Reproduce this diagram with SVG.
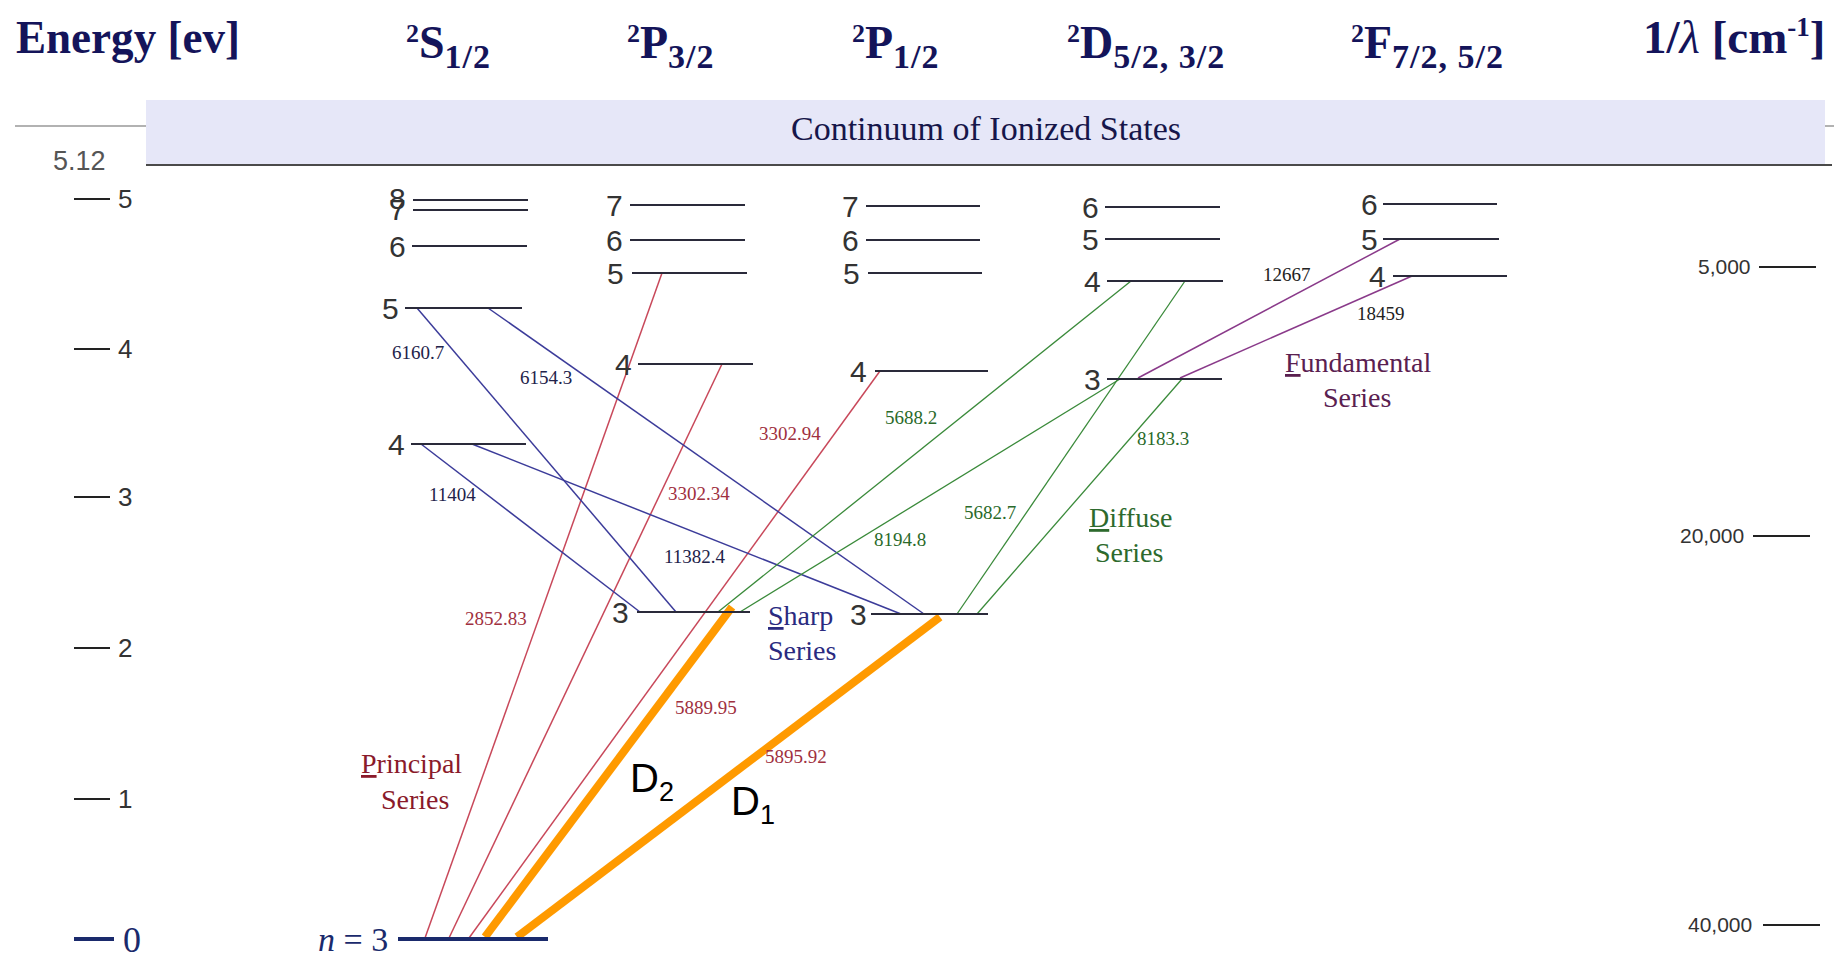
<svg xmlns="http://www.w3.org/2000/svg" width="1834" height="957" viewBox="0 0 1834 957">
<style>
.hdr{font-family:"Liberation Serif","Times New Roman",serif;font-weight:bold;fill:#14145a}
.sub{font-size:34px;letter-spacing:1px}
.lvl{stroke:#2a2a3a;stroke-width:2.2}
.num{font-family:"Liberation Sans",Arial,sans-serif;font-size:30px;fill:#333}
.ax{font-family:"Liberation Sans",Arial,sans-serif;font-size:26px;fill:#333}
.rax{font-family:"Liberation Sans",Arial,sans-serif;font-size:21px;fill:#333}
.tick{stroke:#222;stroke-width:2}
.wl{font-family:"Liberation Serif","Times New Roman",serif;font-size:19px}
.ser{font-family:"Liberation Serif","Times New Roman",serif;font-size:28px}
.pr{stroke:#c8485a;stroke-width:1.5;fill:none}
.sh{stroke:#3c3c9a;stroke-width:1.5;fill:none}
.di{stroke:#3a8a3a;stroke-width:1.3;fill:none}
.fu{stroke:#8a3a8a;stroke-width:1.5;fill:none}
.dl{stroke:#ff9a00;stroke-width:8;fill:none}
.dlab{font-family:"Liberation Sans",Arial,sans-serif;fill:#000}
</style>
<rect width="1834" height="957" fill="#fff"/>

<g id="header">
<text class="hdr" x="16" y="53" font-size="46" textLength="224" lengthAdjust="spacingAndGlyphs">Energy [ev]</text>
<text class="hdr" x="406" y="58"><tspan font-size="26" dy="-16">2</tspan><tspan font-size="46" dy="16">S</tspan><tspan class="sub" dy="10">1/2</tspan></text>
<text class="hdr" x="627" y="58"><tspan font-size="26" dy="-16">2</tspan><tspan font-size="46" dy="16">P</tspan><tspan class="sub" dy="10">3/2</tspan></text>
<text class="hdr" x="852" y="58"><tspan font-size="26" dy="-16">2</tspan><tspan font-size="46" dy="16">P</tspan><tspan class="sub" dy="10">1/2</tspan></text>
<text class="hdr" x="1067" y="58"><tspan font-size="26" dy="-16">2</tspan><tspan font-size="46" dy="16">D</tspan><tspan class="sub" dy="10">5/2, 3/2</tspan></text>
<text class="hdr" x="1351" y="58"><tspan font-size="26" dy="-16">2</tspan><tspan font-size="46" dy="16">F</tspan><tspan class="sub" dy="10">7/2, 5/2</tspan></text>
<text class="hdr" x="1643" y="53" font-size="47">1/<tspan font-style="italic" font-weight="normal">λ</tspan> [cm<tspan font-size="27" dy="-17">-1</tspan><tspan dy="17">]</tspan></text>
</g>

<g id="continuum">
<line x1="15" y1="126" x2="1834" y2="126" stroke="#999" stroke-width="1.5"/>
<rect x="146" y="100" width="1679" height="65" fill="#e6e7f8"/>
<line x1="146" y1="165" x2="1832" y2="165" stroke="#4a4a4a" stroke-width="2"/>
<text x="986" y="140" text-anchor="middle" font-family="Liberation Serif, Times New Roman, serif" font-size="34" fill="#16164a">Continuum of Ionized States</text>
<text x="53" y="170" font-family="Liberation Sans, Arial, sans-serif" font-size="27" fill="#555">5.12</text>
</g>

<g id="energy-axis">
<line class="tick" x1="74" y1="199" x2="110" y2="199"/><text class="ax" x="118" y="208">5</text>
<line class="tick" x1="74" y1="349" x2="110" y2="349"/><text class="ax" x="118" y="358">4</text>
<line class="tick" x1="74" y1="497" x2="110" y2="497"/><text class="ax" x="118" y="506">3</text>
<line class="tick" x1="74" y1="648" x2="110" y2="648"/><text class="ax" x="118" y="657">2</text>
<line class="tick" x1="74" y1="799" x2="110" y2="799"/><text class="ax" x="118" y="808">1</text>
<line x1="74" y1="939" x2="114" y2="939" stroke="#1a2a6c" stroke-width="4"/>
<text x="123" y="952" font-family="Liberation Serif, Times New Roman, serif" font-size="36" fill="#1a2a6c">0</text>
</g>

<g id="wavenumber-axis">
<text class="rax" x="1698" y="274">5,000</text><line class="tick" x1="1759" y1="267" x2="1816" y2="267"/>
<text class="rax" x="1680" y="543">20,000</text><line class="tick" x1="1753" y1="536" x2="1810" y2="536"/>
<text class="rax" x="1688" y="932">40,000</text><line class="tick" x1="1763" y1="925" x2="1820" y2="925"/>
</g>

<g id="connectors">
<line class="pr" x1="425" y1="938" x2="662" y2="273"/>
<line class="pr" x1="449" y1="938" x2="722" y2="364"/>
<line class="pr" x1="469" y1="938" x2="880" y2="371"/>
<line class="sh" x1="417" y1="308" x2="676" y2="612"/>
<line class="sh" x1="488" y1="308" x2="924" y2="614"/>
<line class="sh" x1="421" y1="444" x2="640" y2="612"/>
<line class="sh" x1="472" y1="444" x2="901" y2="614"/>
<line class="di" x1="1131" y1="281" x2="718" y2="612"/>
<line class="di" x1="1120" y1="379" x2="740" y2="612"/>
<line class="di" x1="1185" y1="281" x2="957" y2="614"/>
<line class="di" x1="1182" y1="379" x2="977" y2="614"/>
<line class="fu" x1="1400" y1="239" x2="1138" y2="378"/>
<line class="fu" x1="1412" y1="276" x2="1180" y2="378"/>
<line class="dl" x1="485" y1="937" x2="732" y2="607"/>
<line class="dl" x1="517" y1="937" x2="940" y2="617"/>
</g>

<g id="levels-S">
<line class="lvl" x1="413" y1="200" x2="528" y2="200"/>
<line class="lvl" x1="413" y1="210" x2="528" y2="210"/>
<text class="num" x="389" y="209">8</text><text class="num" x="389" y="220">7</text>
<line class="lvl" x1="412" y1="246" x2="527" y2="246"/><text class="num" x="389" y="257">6</text>
<line class="lvl" x1="405" y1="308" x2="522" y2="308"/><text class="num" x="382" y="319">5</text>
<line class="lvl" x1="411" y1="444" x2="526" y2="444"/><text class="num" x="388" y="455">4</text>
<line x1="398" y1="939" x2="548" y2="939" stroke="#1a2a6c" stroke-width="4"/>
<text x="318" y="951" font-family="Liberation Serif, Times New Roman, serif" font-size="34" fill="#1a2a6c"><tspan font-style="italic">n</tspan> = 3</text>
</g>

<g id="levels-P32">
<line class="lvl" x1="630" y1="205" x2="745" y2="205"/><text class="num" x="606" y="216">7</text>
<line class="lvl" x1="630" y1="240" x2="745" y2="240"/><text class="num" x="606" y="251">6</text>
<line class="lvl" x1="632" y1="273" x2="747" y2="273"/><text class="num" x="607" y="284">5</text>
<line class="lvl" x1="638" y1="364" x2="753" y2="364"/><text class="num" x="615" y="375">4</text>
<line class="lvl" x1="637" y1="612" x2="750" y2="612"/><text class="num" x="612" y="623">3</text>
</g>

<g id="levels-P12">
<line class="lvl" x1="866" y1="206" x2="980" y2="206"/><text class="num" x="842" y="217">7</text>
<line class="lvl" x1="866" y1="240" x2="980" y2="240"/><text class="num" x="842" y="251">6</text>
<line class="lvl" x1="868" y1="273" x2="982" y2="273"/><text class="num" x="843" y="284">5</text>
<line class="lvl" x1="875" y1="371" x2="988" y2="371"/><text class="num" x="850" y="382">4</text>
<line class="lvl" x1="871" y1="614" x2="988" y2="614"/><text class="num" x="850" y="625">3</text>
</g>

<g id="levels-D">
<line class="lvl" x1="1105" y1="207" x2="1220" y2="207"/><text class="num" x="1082" y="218">6</text>
<line class="lvl" x1="1105" y1="239" x2="1220" y2="239"/><text class="num" x="1082" y="250">5</text>
<line class="lvl" x1="1107" y1="281" x2="1223" y2="281"/><text class="num" x="1084" y="292">4</text>
<line class="lvl" x1="1107" y1="379" x2="1222" y2="379"/><text class="num" x="1084" y="390">3</text>
</g>

<g id="levels-F">
<line class="lvl" x1="1383" y1="204" x2="1497" y2="204"/><text class="num" x="1361" y="215">6</text>
<line class="lvl" x1="1383" y1="239" x2="1499" y2="239"/><text class="num" x="1361" y="250">5</text>
<line class="lvl" x1="1393" y1="276" x2="1507" y2="276"/><text class="num" x="1369" y="287">4</text>
</g>

<g id="wavelength-labels">
<text class="wl" x="465" y="625" fill="#a03040">2852.83</text>
<text class="wl" x="668" y="500" fill="#a03040">3302.34</text>
<text class="wl" x="759" y="440" fill="#a03040">3302.94</text>
<text class="wl" x="675" y="714" fill="#a03040">5889.95</text>
<text class="wl" x="765" y="763" fill="#a03040">5895.92</text>
<text class="wl" x="392" y="359" fill="#22224a">6160.7</text>
<text class="wl" x="520" y="384" fill="#22224a">6154.3</text>
<text class="wl" x="429" y="501" fill="#22224a">11404</text>
<text class="wl" x="664" y="563" fill="#22224a">11382.4</text>
<text class="wl" x="885" y="424" fill="#2a6a2a">5688.2</text>
<text class="wl" x="874" y="546" fill="#2a6a2a">8194.8</text>
<text class="wl" x="964" y="519" fill="#2a6a2a">5682.7</text>
<text class="wl" x="1137" y="445" fill="#2a6a2a">8183.3</text>
<text class="wl" x="1263" y="281" fill="#222">12667</text>
<text class="wl" x="1357" y="320" fill="#222">18459</text>
</g>

<g id="series-labels">
<text class="ser" x="361" y="773" fill="#8a1a2a"><tspan text-decoration="underline">P</tspan>rincipal</text>
<text class="ser" x="381" y="809" fill="#8a1a2a">Series</text>
<text class="ser" x="768" y="625" fill="#2a2a80"><tspan text-decoration="underline">S</tspan>harp</text>
<text class="ser" x="768" y="660" fill="#2a2a80">Series</text>
<text class="ser" x="1089" y="527" fill="#2d6a2d"><tspan text-decoration="underline">D</tspan>iffuse</text>
<text class="ser" x="1095" y="562" fill="#2d6a2d">Series</text>
<text class="ser" x="1285" y="372" fill="#5a2050"><tspan text-decoration="underline">F</tspan>undamental</text>
<text class="ser" x="1323" y="407" fill="#5a2050">Series</text>
</g>

<g id="D-labels">
<text class="dlab" x="630" y="792" font-size="40">D<tspan font-size="27" dy="9">2</tspan></text>
<text class="dlab" x="731" y="815" font-size="40">D<tspan font-size="27" dy="9">1</tspan></text>
</g>
</svg>
